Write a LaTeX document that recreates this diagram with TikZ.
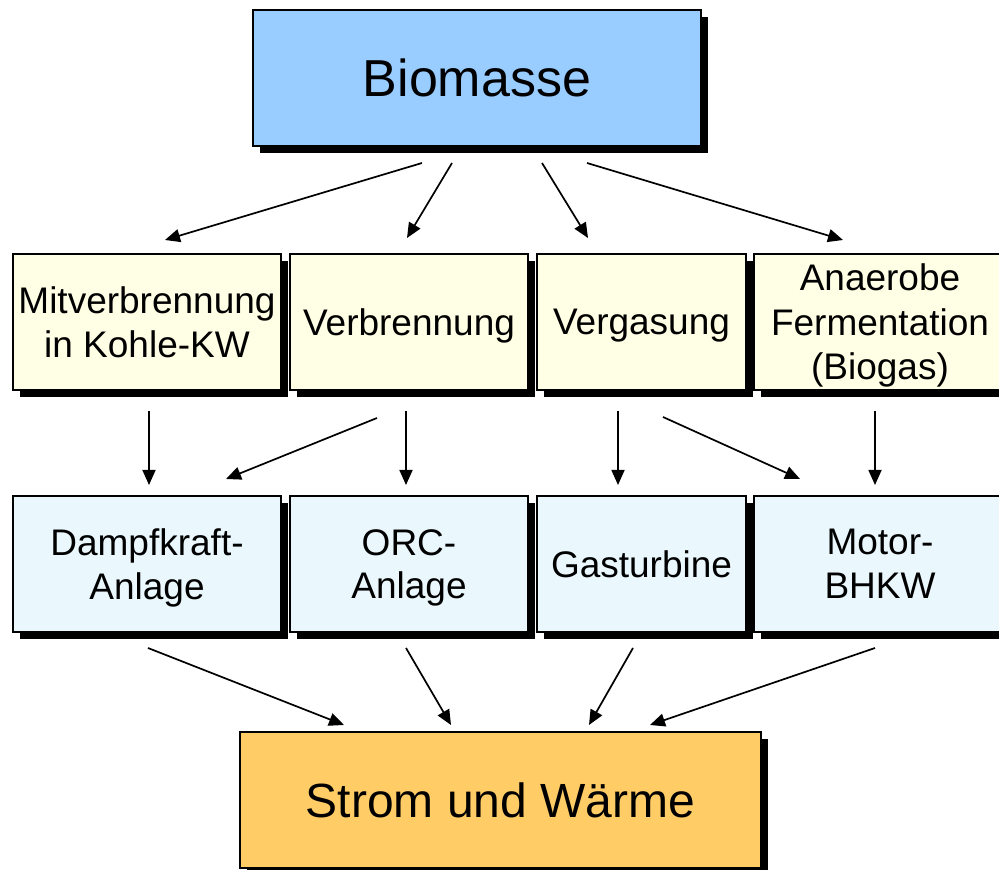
\documentclass[tikz,border=0pt]{standalone}
\usepackage{fontspec}
\setmainfont{Liberation Sans}
\usetikzlibrary{shadows,arrows.meta}
\definecolor{bioblue}{HTML}{99CCFF}
\definecolor{procyellow}{HTML}{FFFFE6}
\definecolor{techcyan}{HTML}{EAF8FD}
\definecolor{outorange}{HTML}{FFCC66}
\begin{document}
\begin{tikzpicture}[x=1pt,y=1pt,
  boxbase/.style={draw=black,line width=1.2pt,align=center,inner sep=0pt,
    minimum height=136pt,text depth=0pt,
    drop shadow={shadow xshift=7pt,shadow yshift=-7pt,fill=black,opacity=1}},
  bigbox/.style={boxbase,font=\fontsize{52}{62}\selectfont},
  procbox/.style={boxbase,fill=procyellow,font=\fontsize{37}{44.5}\selectfont},
  techbox/.style={boxbase,fill=techcyan,font=\fontsize{37}{43.5}\selectfont},
  conn/.style={line width=1.7pt,-{Triangle[length=15pt,width=13pt]}}]
\useasboundingbox (0,0) rectangle (999,870);
\clip (0,0) rectangle (999,870);
\fill[white] (0,0) rectangle (999,870);

\node[bigbox,fill=bioblue,minimum width=448pt] (bio) at (477,792) {Biomasse};

\node[procbox,minimum width=268pt] (mit) at (147,548) {Mitverbrennung\\in Kohle-KW};
\node[procbox,minimum width=238pt] (verb) at (409,548) {Verbrennung};
\node[procbox,minimum width=209pt] (verg) at (641.5,548) {Vergasung};
\node[procbox,minimum width=252pt] (anae) at (880,548) {Anaerobe\\Fermentation\\(Biogas)};

\node[techbox,minimum width=268pt] (dampf) at (147,306) {Dampfkraft-\\Anlage};
\node[techbox,minimum width=238pt] (orc) at (409,306) {ORC-\\Anlage};
\node[techbox,minimum width=209pt] (gast) at (641.5,306) {Gasturbine};
\node[techbox,minimum width=252pt] (motor) at (880,306) {Motor-\\BHKW};

\node[bigbox,fill=outorange,minimum width=521pt,font=\fontsize{48}{58}\selectfont] (strom) at (500.5,70) {Strom und Wärme};

% connector end points
\coordinate (a1s) at (422,707); \coordinate (a1e) at (165,630);
\coordinate (a2s) at (452,707); \coordinate (a2e) at (407,632);
\coordinate (a3s) at (542,707); \coordinate (a3e) at (588,632);
\coordinate (a4s) at (587,707); \coordinate (a4e) at (843,630);

\coordinate (b1s) at (149,459); \coordinate (b1e) at (149,385);
\coordinate (b2s) at (377,452); \coordinate (b2e) at (226,391);
\coordinate (b3s) at (406,459); \coordinate (b3e) at (406,385);
\coordinate (b4s) at (618,459); \coordinate (b4e) at (618,385);
\coordinate (b5s) at (663,453); \coordinate (b5e) at (800,391);
\coordinate (b6s) at (875,459); \coordinate (b6e) at (875,385);

\coordinate (c1s) at (148,222); \coordinate (c1e) at (344,145);
\coordinate (c2s) at (406,222); \coordinate (c2e) at (451,145);
\coordinate (c3s) at (633,222); \coordinate (c3e) at (589,145);
\coordinate (c4s) at (875,222); \coordinate (c4e) at (650,145);

\draw[conn] (a1s) -- (a1e);
\draw[conn] (a2s) -- (a2e);
\draw[conn] (a3s) -- (a3e);
\draw[conn] (a4s) -- (a4e);

\draw[conn] (b1s) -- (b1e);
\draw[conn] (b2s) -- (b2e);
\draw[conn] (b3s) -- (b3e);
\draw[conn] (b4s) -- (b4e);
\draw[conn] (b5s) -- (b5e);
\draw[conn] (b6s) -- (b6e);

\draw[conn] (c1s) -- (c1e);
\draw[conn] (c2s) -- (c2e);
\draw[conn] (c3s) -- (c3e);
\draw[conn] (c4s) -- (c4e);
\end{tikzpicture}
\end{document}
